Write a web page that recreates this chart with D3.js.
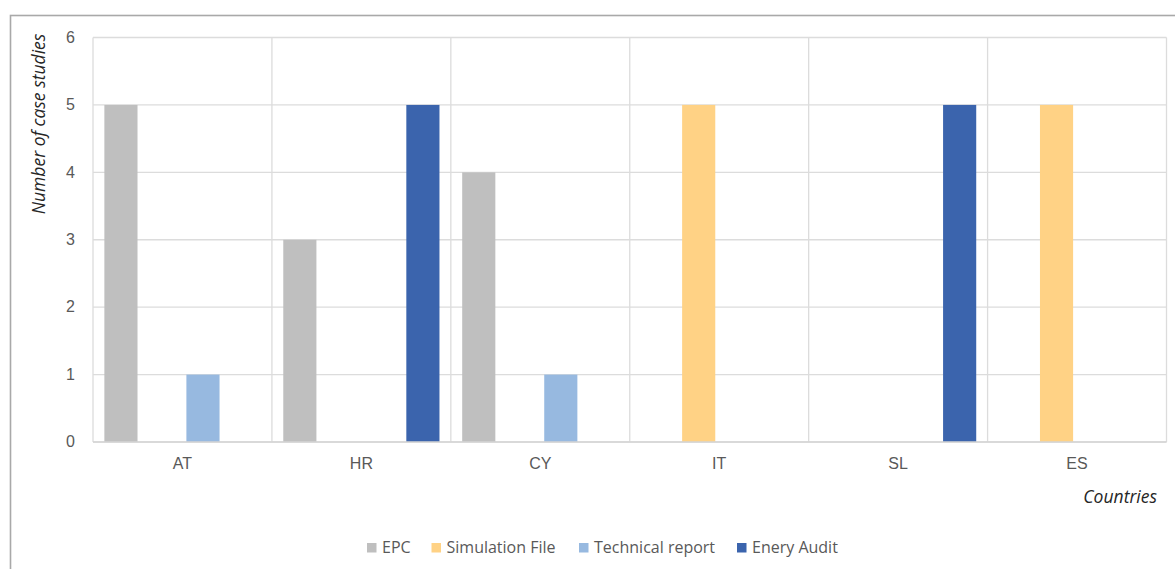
<!DOCTYPE html>
<html>
<head>
<meta charset="utf-8">
<script src="https://cdn.jsdelivr.net/npm/d3@7"></script>
<style>
  html, body { margin: 0; padding: 0; background: #fff; }
  svg { display: block; font-family: "Open Sans", "Noto Sans", sans-serif; }
</style>
</head>
<body>
<svg id="chart" width="1175" height="569"></svg>
<script>
// Countries on the x axis
const countries = ["AT", "HR", "CY", "IT", "SL", "ES"];
// Source types shown as grouped bars (legend spelling kept as published)
const seriesNames = ["EPC", "Simulation File", "Technical report", "Enery Audit"];
const seriesColors = ["#bfbfbf", "#ffd285", "#97b9e0", "#3b64ad"];
// Number of case studies per country, one array per source type
const epc        = [5, 3, 4, 0, 0, 0];
const simulation = [0, 0, 0, 5, 0, 5];
const technical  = [1, 0, 1, 0, 0, 0];
const energyAudit = [0, 5, 0, 0, 5, 0];
const yTicks = [0, 1, 2, 3, 4, 5, 6];

const seriesValues = [epc, simulation, technical, energyAudit];

const svg = d3.select("#chart");
const margin = { left: 93, right: 8.5, top: 37.5, bottom: 127 };
const W = 1175, H = 569;
const plotW = W - margin.left - margin.right;
const plotH = H - margin.top - margin.bottom;

// Outer chart frame
svg.append("rect")
  .attr("x", 10.5).attr("y", 15.5)
  .attr("width", 1300).attr("height", 700)
  .attr("fill", "none").attr("stroke", "#a9a9a9").attr("stroke-width", 1.6);

const g = svg.append("g").attr("transform", `translate(${margin.left},${margin.top})`);

const x0 = d3.scaleBand().domain(countries).range([0, plotW]).paddingInner(0).paddingOuter(0);
const x1 = d3.scaleBand().domain(seriesNames).range([0, x0.bandwidth()])
  .paddingInner(0.192).paddingOuter(0.277);
const y = d3.scaleLinear().domain([0, 6]).range([plotH, 0]);

// Horizontal gridlines
g.append("g").selectAll("line").data(yTicks).join("line")
  .attr("x1", 0).attr("x2", plotW)
  .attr("y1", d => y(d)).attr("y2", d => y(d))
  .attr("stroke", "#dcdcdc").attr("stroke-width", 1.3);

// Vertical category separators
const seps = countries.map(c => x0(c)).concat([plotW]);
g.append("g").selectAll("line").data(seps).join("line")
  .attr("x1", d => d).attr("x2", d => d)
  .attr("y1", 0).attr("y2", plotH)
  .attr("stroke", "#dcdcdc").attr("stroke-width", 1.3);

// Bars
const rows = [];
countries.forEach((c, i) => {
  seriesNames.forEach((s, j) => {
    rows.push({ country: c, series: s, value: seriesValues[j][i], color: seriesColors[j] });
  });
});
g.append("g").selectAll("rect").data(rows.filter(d => d.value > 0)).join("rect")
  .attr("x", d => x0(d.country) + x1(d.series))
  .attr("width", x1.bandwidth())
  .attr("y", d => y(d.value))
  .attr("height", d => y(0) - y(d.value))
  .attr("fill", d => d.color);

// Baseline
g.append("line")
  .attr("x1", 0).attr("x2", plotW).attr("y1", y(0)).attr("y2", y(0))
  .attr("stroke", "#d4d4d4").attr("stroke-width", 1.5);

// Y axis tick labels
const yAxis = d3.axisLeft(y).tickValues(yTicks).tickSize(0).tickPadding(18).tickFormat(d3.format("d"));
const ya = g.append("g").call(yAxis);
ya.select(".domain").remove();
ya.selectAll("text").attr("fill", "#595959").style("font-size", "16px").attr("dy", "0.3em");

// X axis category labels
const xAxis = d3.axisBottom(x0).tickSize(0).tickPadding(16);
const xa = g.append("g").attr("transform", `translate(0,${plotH})`).call(xAxis);
xa.select(".domain").remove();
xa.selectAll("text").attr("fill", "#595959").style("font-size", "16px");

// Axis titles
svg.append("text")
  .attr("transform", "translate(44.5,124) rotate(-90)")
  .attr("text-anchor", "middle")
  .attr("fill", "#262626")
  .style("font-size", "17.5px").style("font-style", "italic")
  .text("Number of case studies");

svg.append("text")
  .attr("x", 1157).attr("y", 503)
  .attr("text-anchor", "end")
  .attr("fill", "#262626")
  .style("font-size", "17.5px").style("font-style", "italic")
  .text("Countries");

// Legend
const legendX = [367, 431.5, 579, 737];
const legend = svg.append("g").selectAll("g").data(seriesNames).join("g")
  .attr("transform", (d, i) => `translate(${legendX[i]},543)`);
legend.append("rect").attr("width", 9.5).attr("height", 9.5)
  .attr("fill", (d, i) => seriesColors[i]);
legend.append("text").attr("x", 15).attr("y", 9.5)
  .attr("fill", "#595959").style("font-size", "16px")
  .text(d => d);
</script>
</body>
</html>
